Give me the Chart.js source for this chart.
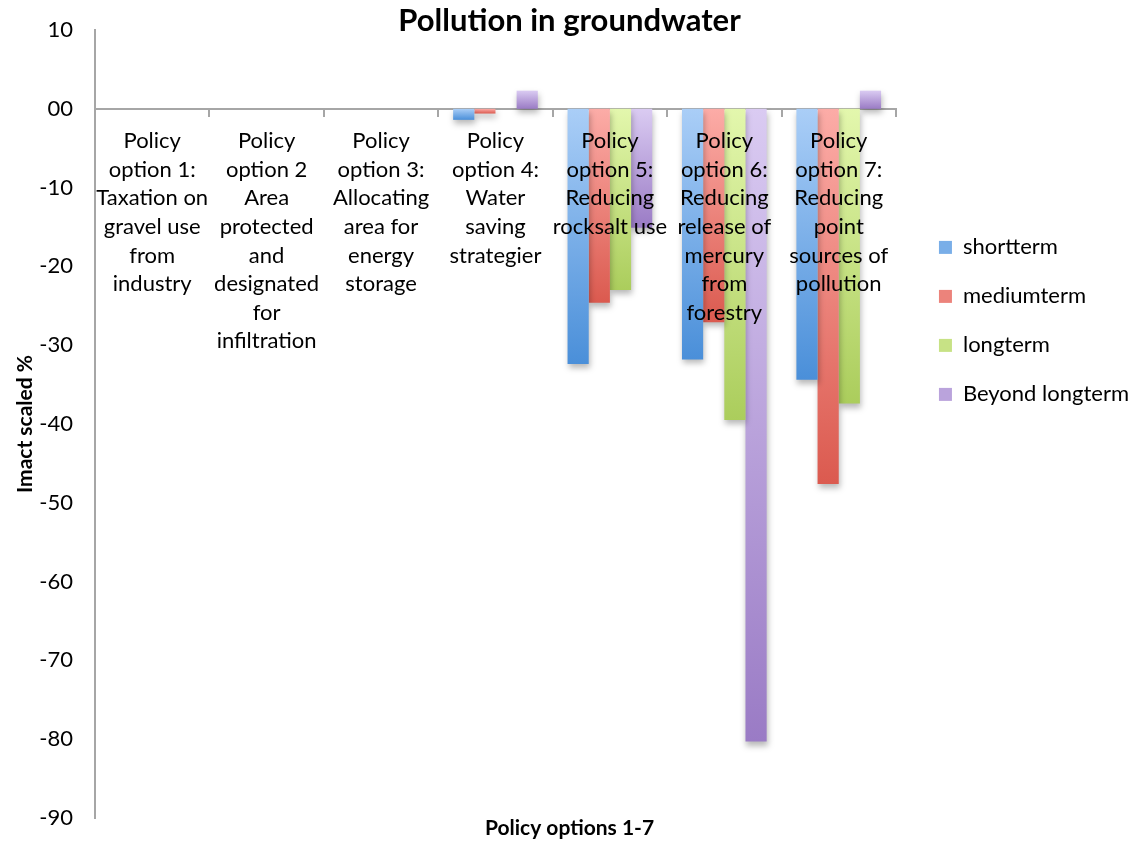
<!DOCTYPE html>
<html lang="en">
<head>
    <meta charset="UTF-8">
    <title>Pollution in groundwater</title>
    <script src="https://cdn.jsdelivr.net/npm/chart.js@4.4.0/dist/chart.umd.min.js"></script>
    <style>
        html, body { margin: 0; padding: 0; background: #fff; }
        #wrap { width: 1139px; height: 843px; }
    </style>
</head>
<body>
<div id="wrap"><canvas id="chart" width="1139" height="843"></canvas></div>

<script>
    // policy options (multi-line category labels)
    const options = [
        ['Policy', 'option 1:', 'Taxation on', 'gravel use', 'from', 'industry'],
        ['Policy', 'option 2', 'Area', 'protected', 'and', 'designated', 'for', 'infiltration'],
        ['Policy', 'option 3:', 'Allocating', 'area for', 'energy', 'storage'],
        ['Policy', 'option 4:', 'Water', 'saving', 'strategier'],
        ['Policy', 'option 5:', 'Reducing', 'rocksalt use'],
        ['Policy', 'option 6:', 'Reducing', 'release of', 'mercury', 'from', 'forestry'],
        ['Policy', 'option 7:', 'Reducing', 'point', 'sources of', 'pollution']
    ]

    // impact per time horizon, scaled %
    const shortterm = [0, 0, 0, -1.4, -32.4, -31.8, -34.4]
    const mediumterm = [0, 0, 0, -0.6, -24.6, -27.1, -47.6]
    const longterm = [0, 0, 0, 0, -23.0, -39.5, -37.4]
    const beyondLongterm = [0, 0, 0, 2.3, -15.1, -80.3, 2.3]

    const yTicks = { min: -90, max: 10, step: 10 }

    // vertical gradient per bar, light at the top and darker at the bottom
    function barFill(top, mid, bottom) {
        return function (c) {
            if (c.type !== 'data') return mid
            const chart = c.chart
            const y = chart.scales.y
            if (!y) return mid
            const p0 = y.getPixelForValue(0)
            const p1 = y.getPixelForValue(c.raw)
            if (!isFinite(p0) || !isFinite(p1)) return mid
            if (Math.abs(p1 - p0) < 1) return mid
            const g = chart.ctx.createLinearGradient(0, Math.min(p0, p1), 0, Math.max(p0, p1))
            g.addColorStop(0, top)
            g.addColorStop(1, bottom)
            return g
        }
    }

    // soft drop shadow under the bars
    const barShadow = {
        id: 'barShadow',
        beforeDatasetsDraw(chart) {
            const ctx = chart.ctx
            ctx.save()
            ctx.shadowColor = 'rgba(0, 0, 0, 0.28)'
            ctx.shadowBlur = 6
            ctx.shadowOffsetX = 1
            ctx.shadowOffsetY = 4
        },
        afterDatasetsDraw(chart) {
            chart.ctx.restore()
        }
    }

    Chart.defaults.font.family = 'Lato, "Open Sans", sans-serif'
    Chart.defaults.color = '#000'

    const axisGray = '#a6a6a6'

    const ctx = document.getElementById('chart').getContext('2d')
    const myChart = new Chart(ctx, {
        type: 'bar',
        data: {
            labels: options,
            datasets: [
                { label: 'shortterm', data: shortterm, backgroundColor: barFill('#aacef7', '#79aee8', '#4a8fd9') },
                { label: 'mediumterm', data: mediumterm, backgroundColor: barFill('#fcaca7', '#ec837b', '#db5a4f') },
                { label: 'longterm', data: longterm, backgroundColor: barFill('#e3f7ad', '#c7e285', '#abcd5c') },
                { label: 'Beyond longterm', data: beyondLongterm, backgroundColor: barFill('#dacbf2', '#baa3dc', '#9a7bc5') }
            ]
        },
        options: {
            responsive: false,
            animation: false,
            layout: { padding: 0 },
            datasets: {
                bar: { categoryPercentage: 0.74, barPercentage: 1.0, borderWidth: 0 }
            },
            plugins: {
                title: {
                    display: true,
                    text: 'Pollution in groundwater',
                    font: { size: 31, weight: 'bold', lineHeight: 1 },
                    padding: { top: 5, bottom: -6 },
                    color: '#000'
                },
                subtitle: {
                    display: true,
                    position: 'bottom',
                    text: 'Policy options 1-7',
                    font: { size: 21, weight: 'bold', lineHeight: 1 },
                    padding: { top: 0, bottom: 4 },
                    color: '#000'
                },
                legend: {
                    position: 'right',
                    align: 'start',
                    maxWidth: 300,
                    title: { display: true, text: '', padding: { top: 0, bottom: 195 } },
                    labels: {
                        boxWidth: 13,
                        boxHeight: 13,
                        padding: 27,
                        font: { size: 22 },
                        color: '#000'
                    }
                },
                tooltip: { enabled: false }
            },
            scales: {
                x: {
                    type: 'category',
                    offset: true,
                    position: { y: 0 },
                    grid: {
                        offset: true,
                        drawOnChartArea: false,
                        drawTicks: true,
                        tickLength: 7,
                        color: axisGray,
                        lineWidth: 2
                    },
                    border: { color: axisGray, width: 2 },
                    ticks: {
                        z: 1,
                        autoSkip: false,
                        maxRotation: 0,
                        minRotation: 0,
                        padding: 11,
                        color: '#000',
                        font: { size: 22, lineHeight: 1.3 }
                    }
                },
                y: {
                    min: yTicks.min,
                    max: yTicks.max,
                    grid: { display: false, drawTicks: true, tickLength: 18 },
                    border: { color: axisGray, width: 2 },
                    ticks: {
                        stepSize: yTicks.step,
                        padding: 4,
                        color: '#000',
                        font: { size: 22 },
                        callback: v => v === 0 ? '00' : v
                    },
                    title: {
                        display: true,
                        text: 'Imact scaled %',
                        font: { size: 21, weight: 'bold', lineHeight: 1.2 },
                        padding: { top: 13, bottom: 0 },
                        color: '#000'
                    },
                    afterFit: s => { s.width = 95 }
                },
                // empty strip between plot and legend
                gap: {
                    type: 'linear',
                    position: 'right',
                    display: true,
                    grid: { display: false, drawTicks: false },
                    border: { display: false },
                    ticks: { display: false },
                    afterFit: s => { s.width = 16 }
                }
            }
        },
        plugins: [barShadow]
    })
</script>
</body>
</html>
